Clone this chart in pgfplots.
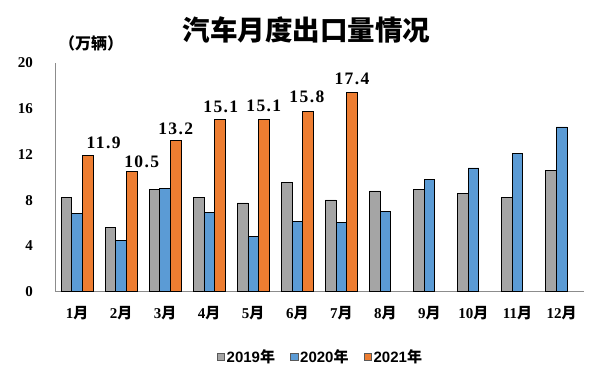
\documentclass[border=0pt]{standalone}
\usepackage{pgfplots}
\pgfplotsset{compat=1.18}
\usepackage{pgfplotstable}
\usepackage{fontspec}
\setmainfont{Liberation Serif}
\newfontfamily\cjk{Noto Sans CJK SC}
\newfontfamily\lsans{Liberation Sans}
\newfontfamily\lbl[LetterSpace=8]{Liberation Serif}
\newcommand\fs[1]{\fontsize{#1}{#1}\selectfont}
\newcommand\m[1]{\textbf{#1}{\cjk\bfseries 月}}

\definecolor{cgray}{HTML}{A5A5A5}
\definecolor{cblue}{HTML}{5B9BD5}
\definecolor{corange}{HTML}{ED7D31}
\definecolor{axgray}{HTML}{8C8C8C}

\pgfplotstableread{
x y
1 8.26
2 5.63
3 8.92
4 8.26
5 7.76
6 9.54
7 8.02
8 8.81
9 8.92
10 8.61
11 8.26
12 10.62
}\dataA

\pgfplotstableread{
x y
1 6.82
2 4.46
3 9.01
4 6.95
5 4.85
6 6.12
7 6.07
8 7.03
9 9.83
10 10.82
11 12.11
12 14.41
}\dataB

\pgfplotstableread{
x y dx dy lab
1 11.9 16 6.5 11.9
2 10.5 10 4 10.5
3 13.2 0 6 13.2
4 15.1 1 6 15.1
5 15.1 0 7 15.1
6 15.8 -1 7.5 15.8
7 17.4 0 8 17.4
}\dataC

\begin{document}
\begin{tikzpicture}
\path[use as bounding box] (0,0) rectangle (600pt,378pt);
\begin{axis}[
  at={(55pt,86.3pt)}, anchor=south west,
  scale only axis,
  width=528.6pt, height=228.7pt,
  xmin=0.5, xmax=12.5, ymin=0, ymax=20,
  enlarge x limits=false,
  ybar=0pt, bar width=10.6pt,
  axis x line*=bottom, axis y line*=left,
  axis line style={axgray, line width=0.8pt, -},
  major tick length=0pt,
  xtick={1,...,12},
  xticklabels={\m{1},\m{2},\m{3},\m{4},\m{5},\m{6},\m{7},\m{8},\m{9},\m{10},\m{11},\m{12}},
  ytick={0,4,8,12,16,20},
  /pgf/number format/assume math mode=true,
  yticklabel style={font=\fs{15}\bfseries, inner sep=0pt, anchor=east, xshift=-22pt},
  xticklabel style={font=\fs{15}, inner sep=0pt, anchor=center, yshift=-21pt},
  clip=false,
  legend columns=3,
  legend style={at={(0.5,-0.284)}, anchor=center, draw=none, fill=none,
    font=\fs{15}, inner sep=0pt,
    nodes={inner sep=0pt},
    /tikz/every odd column/.style={column sep=2pt},
    /tikz/every even column/.style={column sep=15pt}},
  legend cell align=left,
  legend image code/.code={\draw[#1, draw=black!65, line width=0.6pt] (0pt,-3.5pt) rectangle (7.5pt,3.5pt);},
]
\addplot[fill=cgray, draw=black, line width=0.7pt] table[x=x,y=y] {\dataA};
\addlegendentry{\lsans\bfseries 2019{\cjk\bfseries 年}}
\addplot[fill=cblue, draw=black, line width=0.7pt] table[x=x,y=y] {\dataB};
\addlegendentry{\lsans\bfseries 2020{\cjk\bfseries 年}}
\addplot[fill=corange, draw=black, line width=0.7pt,
  point meta=explicit symbolic,
  visualization depends on={\thisrow{dx} \as \dx},
  visualization depends on={\thisrow{dy} \as \dy},
  nodes near coords={\pgfplotspointmeta},
  every node near coord/.append style={font=\lbl\bfseries\fs{17.5}, inner sep=0pt, anchor=south, xshift=\dx*1pt, yshift=\dy*1pt, text=black},
] table[x=x,y=y,meta=lab] {\dataC};
\addlegendentry{\lsans\bfseries 2021{\cjk\bfseries 年}}
\end{axis}
\node[font=\cjk\bfseries\fs{27.5}] at (306.5pt,348pt) {汽车月度出口量情况};
\node[font=\cjk\bfseries\fs{16}] at (91pt,334.7pt) {（万辆）};
\end{tikzpicture}
\end{document}
